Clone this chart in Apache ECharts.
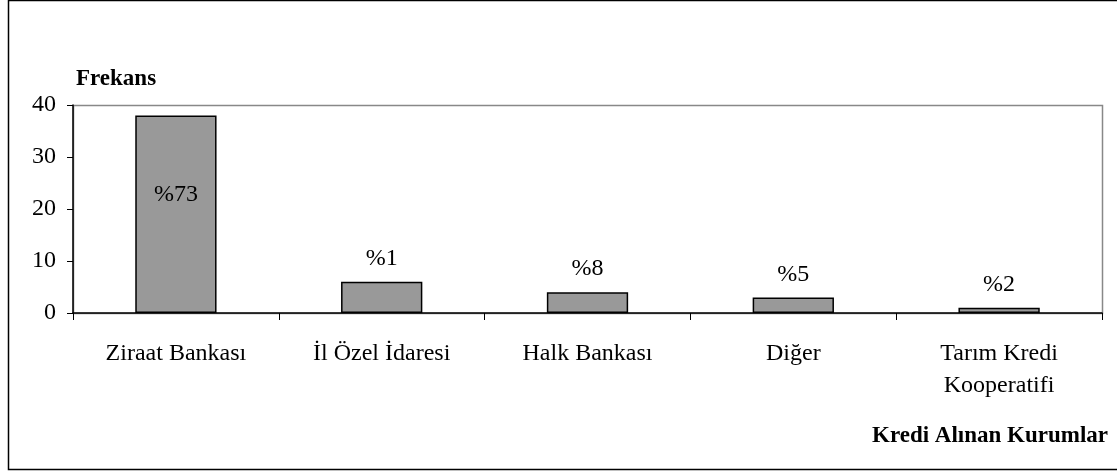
<!DOCTYPE html>
<html><head><meta charset="utf-8">
<script src="https://cdn.jsdelivr.net/npm/echarts@6/dist/echarts.min.js"></script>
<style>html,body{margin:0;padding:0;background:#fff}#c{width:1117px;height:472px}</style>
</head><body><div id="c"></div>
<script>
const categories = ['Ziraat Bankası', 'İl Özel İdaresi', 'Halk Bankası', 'Diğer', 'Tarım Kredi\nKooperatifi'];
const frequencies = [38, 6, 4, 3, 1];
const percentLabels = ['%73', '%1', '%8', '%5', '%2'];
const yTicks = [0, 10, 20, 30, 40];

const font = '"Liberation Serif", "Times New Roman", serif';
const chart = echarts.init(document.getElementById('c'), null, {renderer: 'canvas'});
chart.setOption({
  animation: false,
  backgroundColor: '#fff',
  title: [
    {text: 'Frekans', left: 76, top: 68, padding: 0, textStyle: {fontFamily: font, fontSize: 23, fontWeight: 'bold', color: '#000', letterSpacing: -0.6}},
    {text: 'Kredi Alınan Kurumlar', right: 9, top: 425, padding: 0, textStyle: {fontFamily: font, fontSize: 23, fontWeight: 'bold', color: '#000', letterSpacing: 0.1}}
  ],
  graphic: [
    {type: 'rect', shape: {x: 8.5, y: 0.5, width: 1120, height: 469}, style: {fill: 'none', stroke: '#000', lineWidth: 1.5}, silent: true},
    {type: 'rect', shape: {x: 73.5, y: 105.5, width: 1029, height: 208}, style: {fill: 'none', stroke: '#888', lineWidth: 1.5}, silent: true, z: -1}
  ],
  grid: {left: 73, right: 15, top: 105, bottom: 159},
  xAxis: {
    type: 'category', data: categories,
    axisLine: {lineStyle: {color: '#000', width: 1.5}},
    axisTick: {show: true, length: 7, lineStyle: {color: '#000'}, alignWithLabel: false},
    axisLabel: {fontFamily: font, fontSize: 24, color: '#000', margin: 25, lineHeight: 32, interval: 0, letterSpacing: -0.1}
  },
  yAxis: {
    type: 'value', min: 0, max: 40, interval: 10,
    axisLine: {show: true, lineStyle: {color: '#000', width: 1.5}},
    axisTick: {show: true, length: 6, lineStyle: {color: '#000'}},
    splitLine: {show: false},
    axisLabel: {fontFamily: font, fontSize: 24, color: '#000', margin: 17,
      formatter: v => yTicks.includes(v) ? String(v) : ''}
  },
  series: [{
    type: 'bar',
    data: frequencies.map((v, i) => ({
      value: v,
      label: i === 0 ? {position: 'insideTop', distance: 67} : {position: 'top', distance: 11}
    })),
    barWidth: '39.5%',
    itemStyle: {color: '#999999', borderColor: '#000', borderWidth: 1.5},
    label: {show: true, fontFamily: font, fontSize: 24, color: '#000',
      formatter: p => percentLabels[p.dataIndex]}
  }]
});
</script></body></html>
